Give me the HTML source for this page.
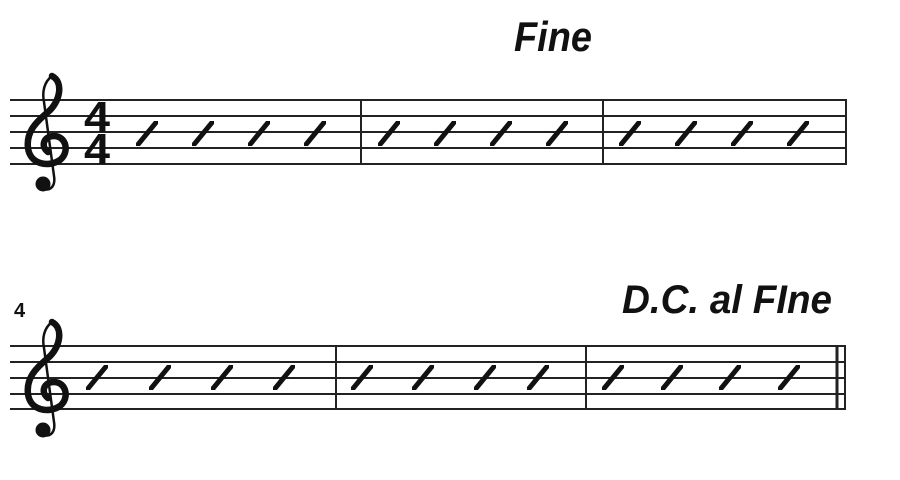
<!DOCTYPE html>
<html><head><style>body{margin:0;background:#fff}svg{display:block}</style></head><body>
<svg width="900" height="480" viewBox="0 0 900 480" xmlns="http://www.w3.org/2000/svg">
<defs>
<g id="clef" fill="none" stroke="#111" stroke-linecap="round">
<path d="M44 -24 C56 -18 52 2 40 12 C28 22 18 32 20 48 C22 64 40 68 52 60 C62 52 58 36 46 36 C36 36 32 46 40 52" stroke-width="6.5"/>
<path d="M44 -24 C36 -18 34 -8 36 2 L46 76 C48 88 40 92 34 88" stroke-width="2.5"/>
<circle cx="35" cy="84" r="7.5" fill="#111" stroke="none"/>
</g>
<path id="sl" d="M-11 10 L7 -12 L11 -12 L11 -9 L-7 13 L-11 13 Z" fill="#111"/>
</defs>
<g stroke="#222" stroke-width="2">
<line x1="10" y1="100" x2="846" y2="100"/><line x1="10" y1="116" x2="846" y2="116"/><line x1="10" y1="132" x2="846" y2="132"/><line x1="10" y1="148" x2="846" y2="148"/><line x1="10" y1="164" x2="846" y2="164"/>
<line x1="361" y1="100" x2="361" y2="164"/><line x1="603" y1="100" x2="603" y2="164"/><line x1="846" y1="99" x2="846" y2="165"/>
<line x1="10" y1="346" x2="846" y2="346"/><line x1="10" y1="362" x2="846" y2="362"/><line x1="10" y1="378" x2="846" y2="378"/><line x1="10" y1="394" x2="846" y2="394"/><line x1="10" y1="409" x2="846" y2="409"/>
<line x1="336" y1="346" x2="336" y2="409"/><line x1="586" y1="346" x2="586" y2="409"/><line x1="837" y1="345" x2="837" y2="410" stroke-width="3"/><line x1="845" y1="345" x2="845" y2="410"/>
</g>
<use href="#clef" x="8" y="100"/>
<use href="#clef" x="8" y="346"/>
<text x="84" y="132" font-family="Liberation Sans, sans-serif" font-weight="bold" font-size="44" textLength="26" lengthAdjust="spacingAndGlyphs" fill="#111">4</text>
<text x="84" y="164" font-family="Liberation Sans, sans-serif" font-weight="bold" font-size="44" textLength="26" lengthAdjust="spacingAndGlyphs" fill="#111">4</text>
<g>
<use href="#sl" x="147" y="133"/><use href="#sl" x="203" y="133"/><use href="#sl" x="259" y="133"/><use href="#sl" x="315" y="133"/>
<use href="#sl" x="389" y="133"/><use href="#sl" x="445" y="133"/><use href="#sl" x="501" y="133"/><use href="#sl" x="557" y="133"/>
<use href="#sl" x="630" y="133"/><use href="#sl" x="686" y="133"/><use href="#sl" x="742" y="133"/><use href="#sl" x="798" y="133"/>
<use href="#sl" x="97" y="377"/><use href="#sl" x="160" y="377"/><use href="#sl" x="222" y="377"/><use href="#sl" x="284" y="377"/>
<use href="#sl" x="362" y="377"/><use href="#sl" x="423" y="377"/><use href="#sl" x="485" y="377"/><use href="#sl" x="538" y="377"/>
<use href="#sl" x="613" y="377"/><use href="#sl" x="672" y="377"/><use href="#sl" x="730" y="377"/><use href="#sl" x="789" y="377"/>
</g>
<text x="514" y="51" font-family="Liberation Sans, sans-serif" font-weight="bold" font-style="italic" font-size="42" textLength="78" lengthAdjust="spacingAndGlyphs" fill="#111">Fine</text>
<text x="622" y="313" font-family="Liberation Sans, sans-serif" font-weight="bold" font-style="italic" font-size="40" textLength="210" lengthAdjust="spacingAndGlyphs" fill="#111">D.C. al FIne</text>
<text x="14" y="317" font-family="Liberation Sans, sans-serif" font-weight="bold" font-size="20" fill="#111">4</text>
</svg>
</body></html>
